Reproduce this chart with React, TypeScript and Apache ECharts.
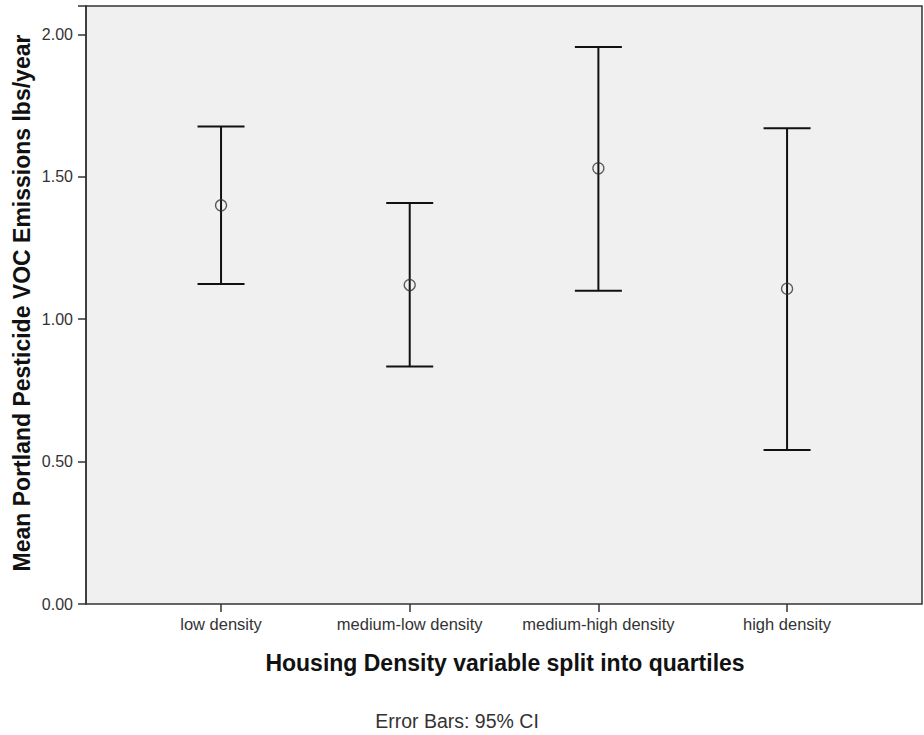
import React, { useEffect, useRef } from "react";
import * as echarts from "echarts";

// Housing density quartiles and the 95% CI of mean pesticide VOC emissions
const categories = ["low density", "medium-low density", "medium-high density", "high density"];
const means = [1.40, 1.12, 1.53, 1.107];
const lowerCI = [1.124, 0.834, 1.100, 0.541];
const upperCI = [1.677, 1.408, 1.956, 1.671];
const yTicks = [0, 0.5, 1.0, 1.5, 2.0];

const FONT = "'Liberation Sans', Arial, sans-serif";

export default function App() {
  const ref = useRef<HTMLDivElement>(null);

  useEffect(() => {
    if (!ref.current) return;
    const chart = echarts.init(ref.current, null, { renderer: "svg" });

    const yMin = yTicks[0];
    const yMax = 2.1;

    const errorData = categories.map((_, i) => [i, lowerCI[i], upperCI[i]]);
    const meanData = categories.map((_, i) => [i, means[i]]);

    chart.setOption({
      animation: false,
      backgroundColor: "#ffffff",
      textStyle: { fontFamily: FONT },
      grid: [
        // frame of the plot panel
        {
          left: 86, right: 2, top: 6, bottom: 131,
          show: true, backgroundColor: "#f0f0f0", borderColor: "#333333", borderWidth: 1.5,
        },
        // inner grid where the categories sit
        { left: 126.7, right: 42.6, top: 6, bottom: 131 },
      ],
      xAxis: [
        { gridIndex: 0, type: "value", min: 0, max: 1, show: false },
        {
          gridIndex: 1,
          type: "category",
          data: categories,
          boundaryGap: true,
          axisLine: { show: false },
          axisTick: { show: true, alignWithLabel: true, length: 8, lineStyle: { color: "#333333", width: 1.5 } },
          axisLabel: { color: "#333333", fontSize: 16.5, margin: 11, fontFamily: FONT, interval: 0 },
          splitLine: { show: false },
        },
      ],
      yAxis: [
        {
          gridIndex: 0,
          type: "value",
          min: yMin,
          max: yMax,
          interval: 0.5,
          axisLine: { show: true, lineStyle: { color: "#333333", width: 1.5 } },
          axisTick: { show: true, length: 8, lineStyle: { color: "#333333", width: 1.5 } },
          axisLabel: {
            color: "#333333", fontSize: 16, margin: 13, fontFamily: FONT,
            formatter: (v: number) => (yTicks.some((t) => Math.abs(t - v) < 1e-9) ? v.toFixed(2) : ""),
          },
          splitLine: { show: false },
        },
        { gridIndex: 1, type: "value", min: yMin, max: yMax, show: false },
      ],
      series: [
        {
          type: "custom",
          xAxisIndex: 1,
          yAxisIndex: 1,
          data: errorData,
          renderItem: (params: any, api: any) => {
            const x = api.value(0);
            const lo = api.coord([x, api.value(1)]);
            const hi = api.coord([x, api.value(2)]);
            const half = 23.5;
            const style = { stroke: "#111111", lineWidth: 2 };
            return {
              type: "group",
              children: [
                { type: "line", shape: { x1: hi[0], y1: hi[1], x2: lo[0], y2: lo[1] }, style },
                { type: "line", shape: { x1: hi[0] - half, y1: hi[1], x2: hi[0] + half, y2: hi[1] }, style },
                { type: "line", shape: { x1: lo[0] - half, y1: lo[1], x2: lo[0] + half, y2: lo[1] }, style },
              ],
            };
          },
          z: 2,
        },
        {
          type: "scatter",
          xAxisIndex: 1,
          yAxisIndex: 1,
          data: meanData,
          symbol: "circle",
          symbolSize: 11,
          itemStyle: { color: "rgba(0,0,0,0)", borderColor: "#333333", borderWidth: 1.3 },
          z: 3,
        },
      ],
      graphic: [
        {
          type: "text",
          x: 22,
          y: 303,
          rotation: Math.PI / 2,
          style: {
            text: "Mean Portland Pesticide VOC Emissions lbs/year",
            font: `bold 23px ${FONT}`,
            fill: "#111111",
            align: "center",
            verticalAlign: "middle",
          },
        },
        {
          type: "text",
          x: 505,
          y: 663,
          style: {
            text: "Housing Density variable split into quartiles",
            font: `bold 23px ${FONT}`,
            fill: "#111111",
            align: "center",
            verticalAlign: "middle",
          },
        },
        {
          type: "text",
          x: 457,
          y: 721,
          style: {
            text: "Error Bars: 95% CI",
            font: `19.5px ${FONT}`,
            fill: "#333333",
            align: "center",
            verticalAlign: "middle",
          },
        },
      ],
    });

    return () => chart.dispose();
  }, []);

  return (
    <div
      ref={ref}
      style={{ position: "fixed", left: 0, top: 0, width: 924, height: 735, background: "#ffffff" }}
    />
  );
}
